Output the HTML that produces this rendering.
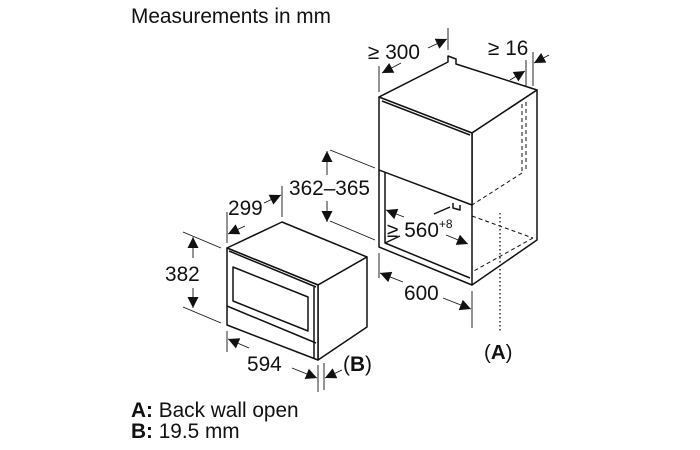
<!DOCTYPE html>
<html><head><meta charset="utf-8"><style>
html,body{margin:0;padding:0;background:#fff;width:700px;height:450px;overflow:hidden}
svg{display:block}
text{font-family:"Liberation Sans",Arial,sans-serif;fill:#111}
</style></head><body>
<svg width="700" height="450" viewBox="0 0 700 450" xmlns="http://www.w3.org/2000/svg">
<defs>
<marker id="a" viewBox="0 0 10 10" refX="10" refY="5" markerWidth="12" markerHeight="11" orient="auto-start-reverse" markerUnits="userSpaceOnUse"><path d="M0,0 L10,5 L0,10 z" fill="#111"/></marker>
</defs>
<text x="131" y="23" font-size="20.8">Measurements in mm</text>

<g stroke="#111" stroke-width="1.5" fill="#fff" stroke-linejoin="round">
<polygon points="379,97 448,62 448,56 456,59 456,64 537,90 472,133"/>
<polygon points="472,133 537,90 537,240 472,285"/>
<polygon points="379,97 472,133 472,205 379,170"/>
<line x1="382" y1="101" x2="470" y2="135"/>
<polyline points="379,170 379,247 472,285" fill="none"/>
<polyline points="385,172 385,243 470,278" fill="none"/>
<line x1="385" y1="243" x2="400" y2="236"/>
<polyline points="453,203 453,208 460,210 460,205" fill="none"/>
<line x1="450" y1="207" x2="434" y2="214"/>
</g>
<g stroke="#111" stroke-width="1" fill="none" stroke-dasharray="4,3">
<line x1="522" y1="104" x2="522" y2="173"/>
<line x1="526" y1="102" x2="526" y2="171"/>
<line x1="522" y1="173" x2="472" y2="205"/>
<line x1="472" y1="216" x2="533" y2="238"/>
<line x1="533" y1="238" x2="472" y2="272"/>
</g>
<line x1="500" y1="213" x2="500" y2="332" stroke="#111" stroke-width="1.3" stroke-dasharray="1.5,2.5"/>
<text x="484" y="359" font-size="20.5">(<tspan font-weight="bold">A</tspan>)</text>

<g stroke="#111" stroke-width="1.5" fill="#fff" stroke-linejoin="round">
<polygon points="227,248 282,222 367,257 318,285"/>
<polygon points="318,285 367,257 367,327 318,360"/>
<polygon points="227,248 318,285 318,360 227,325"/>
<line x1="229" y1="251" x2="316" y2="287"/>
<polygon points="233,267 308,297 308,331 233,301" fill="none"/>
<line x1="227" y1="306" x2="316" y2="343"/>
<line x1="314" y1="287" x2="314" y2="358"/>
</g>

<g stroke="#111" stroke-width="0.9" fill="none">
<line x1="183" y1="232" x2="221" y2="248"/>
<line x1="183" y1="307" x2="221" y2="323"/>
<line x1="193" y1="258" x2="193" y2="237" marker-end="url(#a)"/>
<line x1="193" y1="288" x2="193" y2="308" marker-end="url(#a)"/>
<line x1="227" y1="243" x2="227" y2="212"/>
<line x1="282" y1="217" x2="282" y2="186"/>
<line x1="245" y1="226" x2="228" y2="234" marker-end="url(#a)"/>
<line x1="264" y1="203" x2="281" y2="195" marker-end="url(#a)"/>
<line x1="227" y1="331" x2="227" y2="352"/>
<line x1="318" y1="365" x2="318" y2="392"/>
<line x1="249" y1="348" x2="228" y2="339" marker-end="url(#a)"/>
<line x1="292" y1="368" x2="317" y2="378" marker-end="url(#a)"/>
<line x1="324" y1="363" x2="324" y2="390"/>
<line x1="342" y1="370" x2="325" y2="378" marker-end="url(#a)"/>
<line x1="330" y1="150" x2="375" y2="168"/>
<line x1="330" y1="221" x2="375" y2="240"/>
<line x1="327" y1="175" x2="327" y2="151" marker-end="url(#a)"/>
<line x1="327" y1="201" x2="327" y2="222" marker-end="url(#a)"/>
<line x1="379" y1="253" x2="379" y2="278"/>
<line x1="472" y1="291" x2="472" y2="328"/>
<line x1="403" y1="282" x2="380" y2="273" marker-end="url(#a)"/>
<line x1="443" y1="298" x2="471" y2="309" marker-end="url(#a)"/>
<line x1="404" y1="217" x2="386" y2="210" marker-end="url(#a)"/>
<line x1="446" y1="235" x2="468" y2="244" marker-end="url(#a)"/>
<line x1="379" y1="92" x2="379" y2="66"/>
<line x1="448" y1="50" x2="448" y2="28"/>
<line x1="401" y1="63" x2="382" y2="73" marker-end="url(#a)"/>
<line x1="428" y1="48" x2="447" y2="39" marker-end="url(#a)"/>
<line x1="526" y1="86" x2="526" y2="60"/>
<line x1="533" y1="86" x2="533" y2="52"/>
<line x1="510" y1="80" x2="525" y2="71" marker-end="url(#a)"/>
<line x1="549" y1="55" x2="534" y2="63" marker-end="url(#a)"/>
</g>

<g font-size="20.8">
<text x="165" y="281">382</text>
<text x="228" y="215">299</text>
<text x="247" y="371">594</text>
<text x="343" y="371">(<tspan font-weight="bold">B</tspan>)</text>
<text x="289" y="195">362–365</text>
<text x="404" y="300">600</text>
<text x="387" y="237">≥ 560<tspan font-size="12" dy="-9">+8</tspan></text>
<text x="368" y="59">≥ 300</text>
<text x="488" y="55">≥ 16</text>
</g>
<text x="131" y="417" font-size="20.8"><tspan font-weight="bold">A:</tspan> Back wall open</text>
<text x="131" y="438" font-size="20.8"><tspan font-weight="bold">B:</tspan> 19.5 mm</text>
</svg>
</body></html>
